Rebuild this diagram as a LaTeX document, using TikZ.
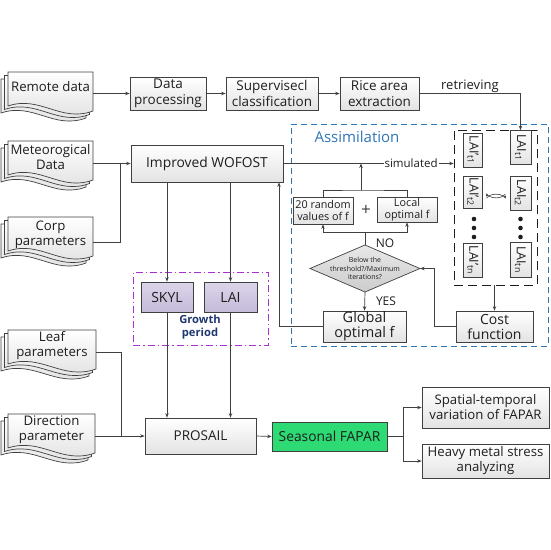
\documentclass[tikz,border=0pt]{standalone}
\usepackage{fontspec}
\usepackage{graphicx}
\setmainfont{Open Sans}
\usetikzlibrary{arrows.meta,calc}
\definecolor{lc}{RGB}{64,64,64}
\definecolor{tc}{RGB}{30,30,30}
\definecolor{ablue}{RGB}{46,117,182}
\definecolor{mag}{RGB}{170,50,210}
\definecolor{lav}{RGB}{196,186,218}
\definecolor{navy}{RGB}{32,56,110}
\definecolor{grn}{RGB}{45,218,115}
\newcommand\docstack[8]{%
 \foreach \dd in {7,3.5,0}{%
  \path[docshape] ({#2-\dd},{#3+\dd}) -- ({#2-\dd+#4},{#3+\dd}) -- ({#2-\dd+#4},{#3+\dd+#5+3})
   .. controls ({#2-\dd+0.62*#4},{#3+\dd+#5+15}) and ({#2-\dd+0.38*#4},{#3+\dd+#5-13}) .. ({#2-\dd},{#3+\dd+#5-2}) -- cycle;
 }
 \node[doctext] (#1-t) at ({#2+#4/2},#6) {#8};
 \node[inner sep=0pt, minimum width=#4, minimum height=1pt] (#1) at ({#2+#4/2},#7) {};
}
\tikzset{
 line/.style={draw=lc, line width=0.7pt},
 arr/.style={line, -{Stealth[length=4.5pt,width=3.5pt]}},
 box/.style={draw=lc, line width=0.7pt, top color=white, bottom color=gray!22, align=center,
   inner sep=0pt, text=tc, font=\fontsize{13.5}{15.5}\selectfont},
 docshape/.style={draw=lc, line width=0.7pt, top color=white, bottom color=gray!25},
 doctext/.style={align=center, inner sep=0pt, text=tc, font=\fontsize{13.2}{15}\selectfont},
 laib/.style={box, font=\fontsize{12.5}{13}\selectfont, inner sep=0pt},
 purp/.style={draw=lc, line width=0.7pt, top color=lav!60, bottom color=lav, text=tc,
   font=\fontsize{14}{15}\selectfont, inner sep=0pt},
 lab/.style={text=tc, inner sep=1pt},
 cyc/.style={lc, line width=0.6pt, -{Stealth[length=3pt,width=3pt]}},
}
\begin{document}
\begin{tikzpicture}[x=1pt,y=-1pt]
\useasboundingbox (0,0) rectangle (550,550);
% documents
\docstack{remote}{8}{72}{85}{36}{87}{93.5}{Remote data}
\docstack{meteo}{8}{141}{85}{36}{157}{163.5}{Meteorogical\\Data}
\docstack{corp}{8}{217}{85}{36}{234.5}{242}{Corp\\parameters}
\docstack{leaf}{8}{330}{88}{36}{345.5}{352}{Leaf\\parameters}
\docstack{direction}{8}{414}{87}{36}{430}{436}{Direction\\parameter}
% top row
\node[box, minimum width=76pt, minimum height=33pt] (dataproc) at (168,93.5) {Data\\processing};
\node[box, minimum width=92pt, minimum height=33pt] (superv) at (272,93.5) {Supervisecl\\classification};
\node[box, minimum width=79pt, minimum height=33pt] (rice) at (379.5,93.5) {Rice area\\extraction};
\node[box, minimum width=152pt, minimum height=37pt, font=\fontsize{13.8}{15}\selectfont] (wofost) at (207,163.5) {Improved WOFOST};
% assimilation frame
\node[draw=ablue, line width=0.9pt, dash pattern=on 6pt off 4pt, minimum width=257pt, minimum height=222pt, inner sep=0pt] (assim) at (419.5,235) {};
\node[text=ablue, font=\fontsize{15}{16}\selectfont, inner sep=0pt] (assimlab) at (357,137) {Assimilation};
% LAI frame
\node[draw=tc, line width=0.7pt, dash pattern=on 9pt off 5pt, minimum width=83pt, minimum height=155pt, inner sep=0pt] (laiframe) at (495.5,207.5) {};
\node[laib, minimum width=19pt, minimum height=34pt] (lp1) at (473,150) {\rotatebox{-90}{LAI'\textsubscript{t1}}};
\node[laib, minimum width=19pt, minimum height=32pt] (lp2) at (473,192) {\rotatebox{-90}{LAI'\textsubscript{t2}}};
\node[laib, minimum width=19pt, minimum height=34pt] (lpn) at (473,260) {\rotatebox{-90}{LAI'\textsubscript{tn}}};
\node[laib, minimum width=21pt, minimum height=34pt] (l1) at (520.5,147.5) {\rotatebox{-90}{LAI\textsubscript{t1}}};
\node[laib, minimum width=21pt, minimum height=34pt] (l2) at (520.5,193) {\rotatebox{-90}{LAI\textsubscript{t2}}};
\node[laib, minimum width=21pt, minimum height=35pt] (ln) at (520.5,259.5) {\rotatebox{-90}{LAI\textsubscript{tn}}};
\foreach \yy in {219,228,237}{
  \fill[tc] (474,\yy) circle (2.3pt);
  \fill[tc] (520.5,\yy) circle (2.3pt);
}
\draw[cyc] (505.4,193.9) arc[start angle=-20, end angle=-165, x radius=10pt, y radius=6pt];
\draw[cyc] (486.6,198.1) arc[start angle=160, end angle=15, x radius=10pt, y radius=6pt];
% optimisation loop
\node[box, minimum width=60pt, minimum height=27pt, font=\fontsize{10.8}{12}\selectfont] (random) at (323,210.5) {20 random\\values of f};
\node[box, minimum width=60pt, minimum height=25pt, font=\fontsize{10.8}{12}\selectfont] (local) at (407,209.5) {Local\\optimal f};
\node[text=lc, font=\fontsize{17}{17}\selectfont, inner sep=0pt] (plus) at (366,210) {+};
\coordinate (diaT) at (365,245);
\coordinate (diaB) at (365,292);
\coordinate (diaL) at (310,268.5);
\coordinate (diaR) at (420,268.5);
\draw[lc, line width=0.7pt, top color=gray!18, bottom color=gray!40] (diaT) -- (diaR) -- (diaB) -- (diaL) -- cycle;
\node[text=tc, align=center, font=\fontsize{7}{8.5}\selectfont, inner sep=0pt] (dia) at (365,268.5) {Below the\\threshold?/Maximum\\iterations?};
\node[box, minimum width=83pt, minimum height=31pt, font=\fontsize{14.5}{15}\selectfont] (global) at (364.5,326.5) {Global\\optimal f};
\node[box, minimum width=77pt, minimum height=31pt, font=\fontsize{14}{15}\selectfont] (cost) at (494.5,326.5) {Cost\\function};
% growth period
\node[draw=mag, line width=0.9pt, dash pattern=on 7pt off 3pt on 1.5pt off 3pt, minimum width=135pt, minimum height=73pt, inner sep=0pt] (growth) at (200.5,308.5) {};
\node[purp, minimum width=52pt, minimum height=30pt] (skyl) at (167,297) {SKYL};
\node[purp, minimum width=53pt, minimum height=30pt] (laig) at (230.5,297) {LAI};
\node[text=navy, align=center, font=\bfseries\fontsize{11.2}{13}\selectfont, inner sep=0pt] (growthlab) at (200,327.5) {Growth\\period};
% lower row
\node[box, minimum width=111pt, minimum height=36pt] (prosail) at (200.5,436) {PROSAIL};
\node[draw=lc, line width=0.7pt, fill=grn, text=tc, minimum width=115pt, minimum height=29pt, inner sep=0pt, font=\fontsize{13.8}{15}\selectfont] (seasonal) at (329.5,436.5) {Seasonal FAPAR};
\node[box, minimum width=127pt, minimum height=41pt, font=\fontsize{13.2}{15}\selectfont] (spatial) at (485.5,407.5) {Spatial-temporal\\variation of FAPAR};
\node[box, minimum width=127pt, minimum height=34pt, font=\fontsize{13.2}{15}\selectfont] (heavy) at (485.5,461) {Heavy metal stress\\analyzing};
% connectors
\draw[arr] (remote.east) -- (dataproc.west);
\draw[arr] (dataproc.east) -- (superv.west);
\draw[arr] (superv.east) -- (rice.west);
\draw[arr] (rice.east) -- node[lab, above, font=\fontsize{13}{14}\selectfont] {retrieving} (rice.east -| l1.north) -- (l1.north);
\coordinate (j1) at (120,163.5);
\draw[arr] (meteo.east) -- (wofost.west);
\draw[line] (corp.east) -| (j1);
\draw[arr] (wofost.east) -- node[pos=0.75, fill=white, text=tc, inner sep=1pt, font=\fontsize{11.5}{12}\selectfont] {simulated} (wofost.east -| laiframe.west);
\coordinate (mt) at (361,190);
\draw[line] (random.north) |- (mt) -| (local.north);
\draw[arr] (mt) -- (mt |- wofost.east);
\coordinate (mb) at (365,232);
\draw[arr] (diaT) -- (mb) -| (random.south);
\draw[arr] (mb) -| (local.south);
\node[text=tc, font=\fontsize{12}{13}\selectfont, inner sep=0pt] (nolab) at (385,243) {NO};
\draw[arr] (diaB) -- (global.north);
\node[text=tc, font=\fontsize{12}{13}\selectfont, inner sep=0pt] (yeslab) at (386,301) {YES};
\draw[arr] (laiframe.south -| cost.north) -- (cost.north);
\coordinate (c1) at (434,326.5);
\draw[arr] (cost.west) -- (c1) |- (diaR);
\coordinate (g1) at (279,326.5);
\draw[arr] (global.west) -- (g1) -- (g1 |- wofost.south);
\draw[arr] (wofost.south -| skyl.north) -- (skyl.north);
\draw[arr] (wofost.south -| laig.north) -- (laig.north);
\draw[arr] (skyl.south) -- (skyl.south |- prosail.north);
\draw[arr] (laig.south) -- (laig.south |- prosail.north);
\coordinate (j2) at (121,436);
\draw[line] (leaf.east) -| (j2);
\draw[arr] (direction.east) -- (prosail.west);
\draw[arr] (prosail.east) -- (seasonal.west);
\coordinate (j3) at (403,436.5);
\draw[line] (seasonal.east) -- (j3);
\draw[arr] (j3) |- (spatial.west);
\draw[arr] (j3) |- (heavy.west);
\end{tikzpicture}
\end{document}
